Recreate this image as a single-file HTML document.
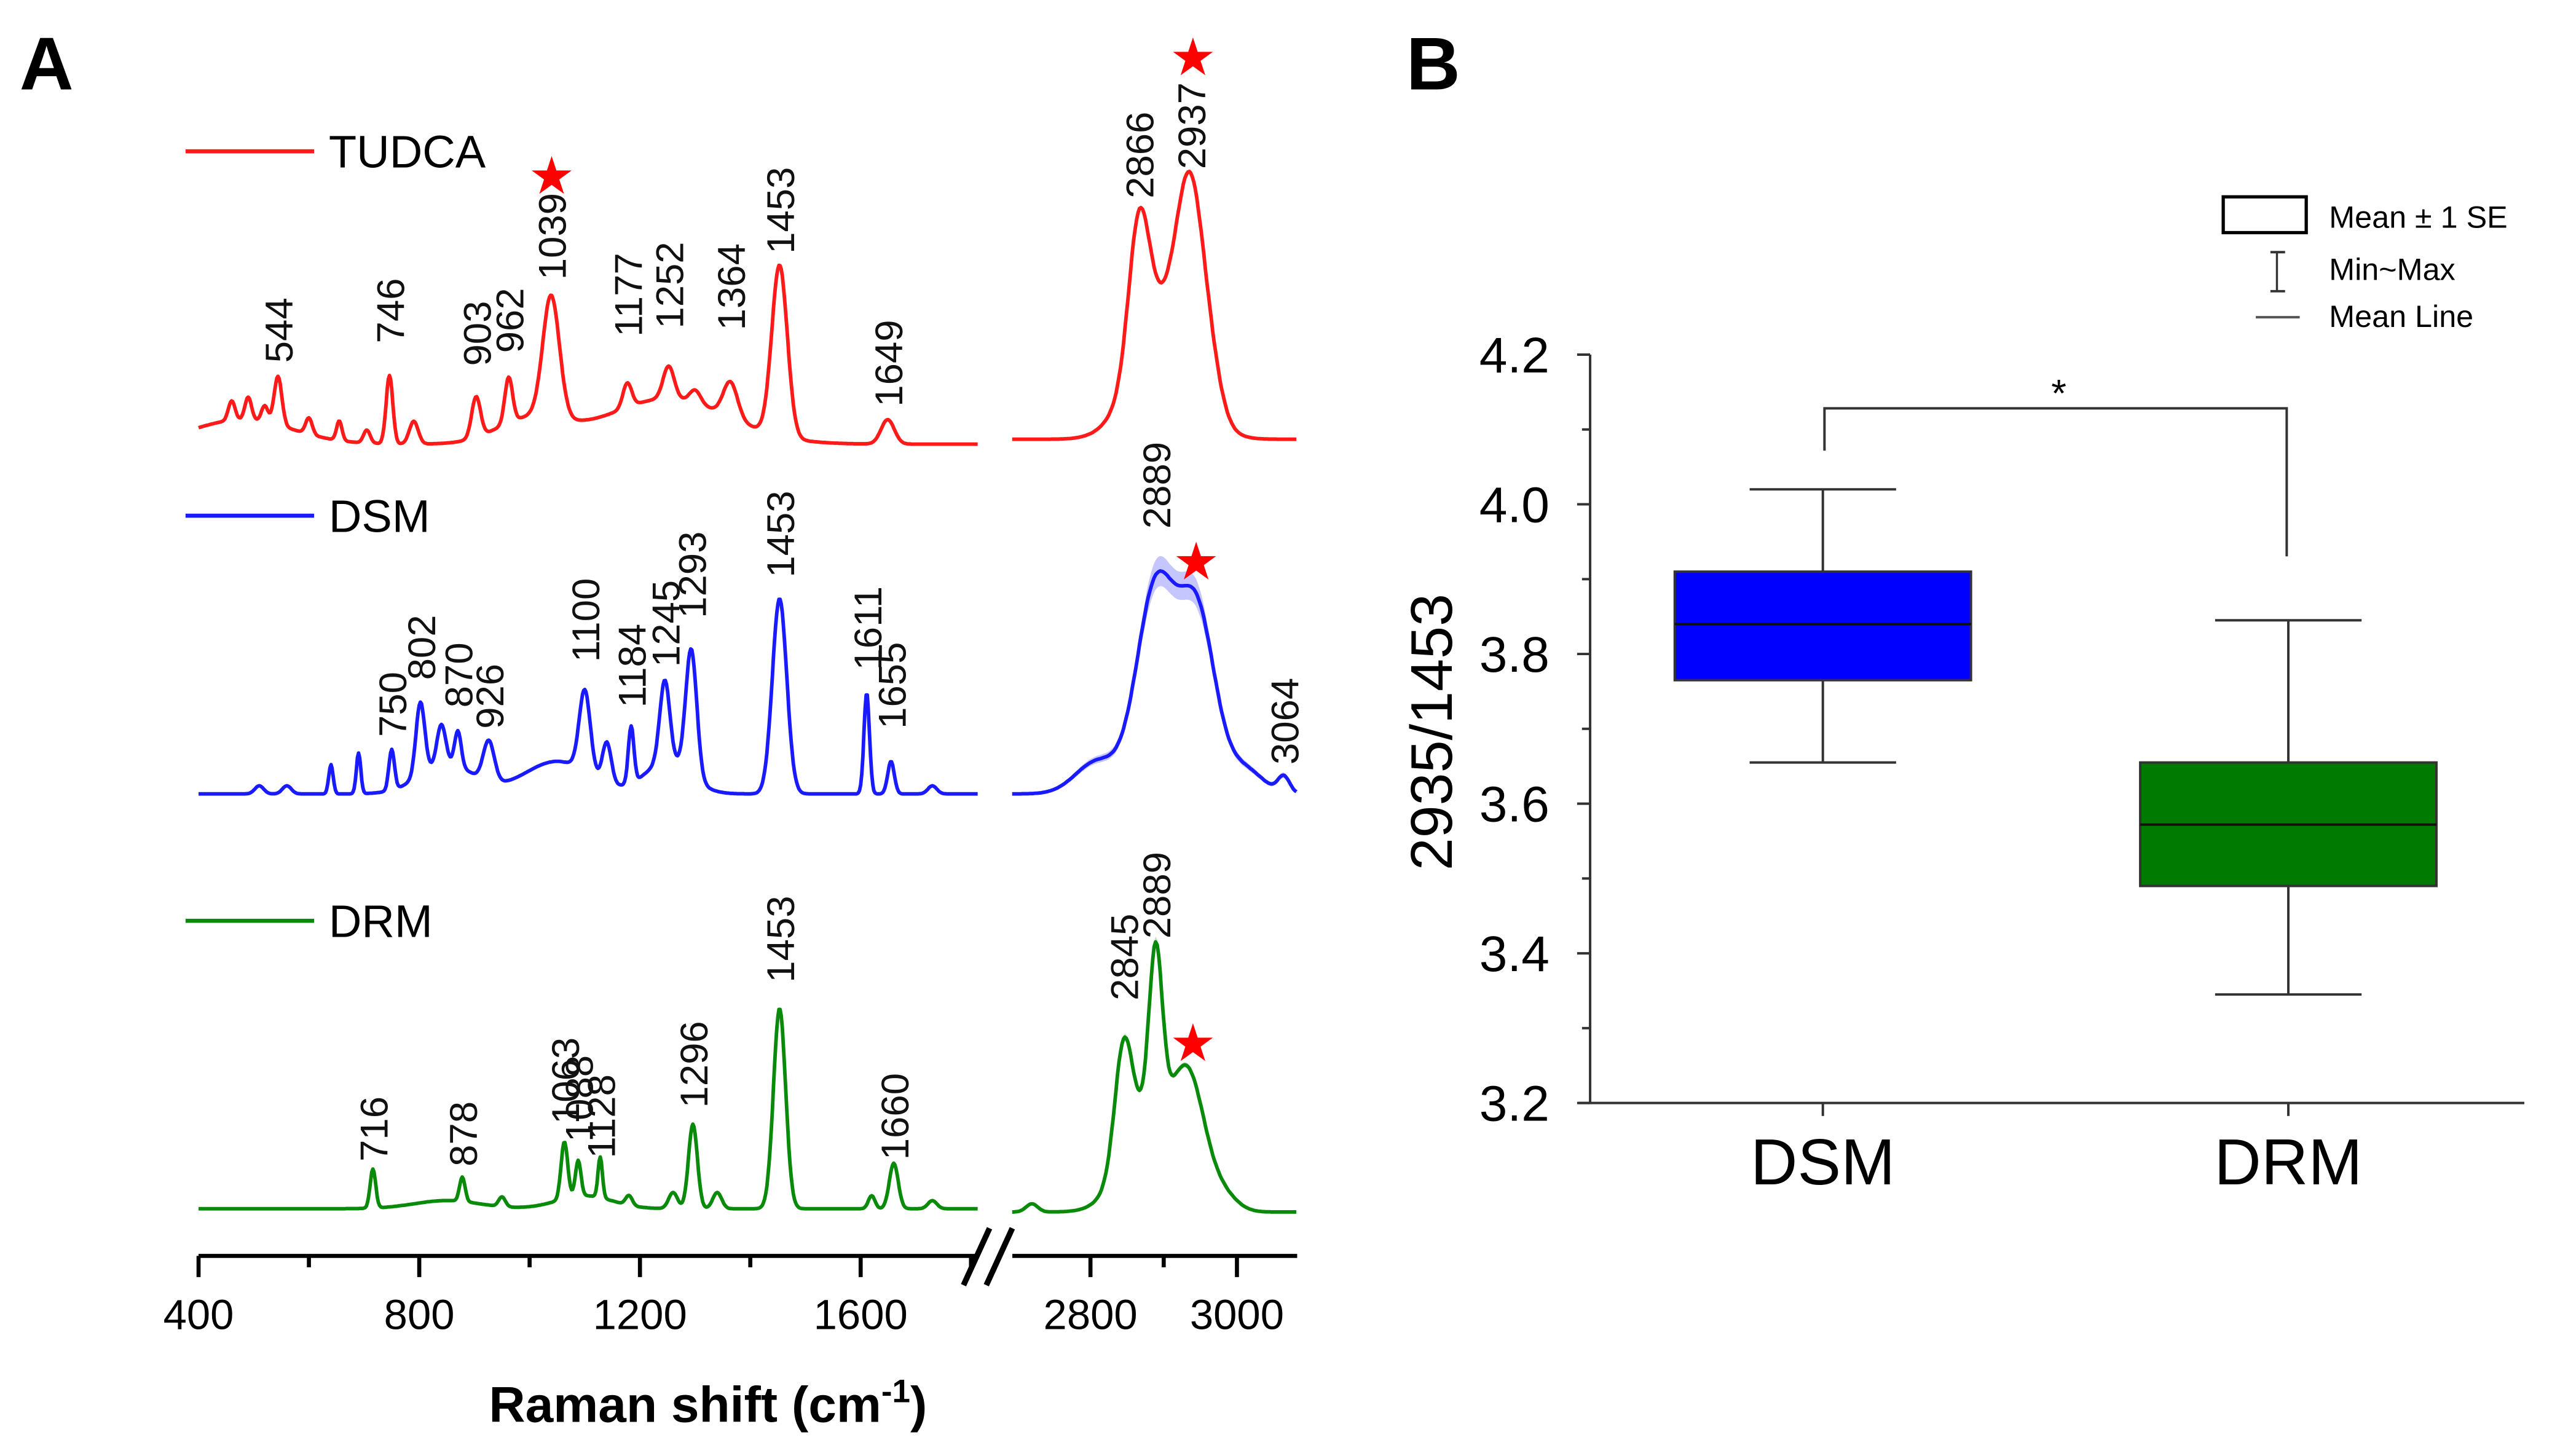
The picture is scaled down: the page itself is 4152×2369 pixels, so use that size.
<!DOCTYPE html>
<html><head><meta charset="utf-8"><style>
html,body{margin:0;padding:0;background:#fff;}
svg{display:block;}
text{font-family:"Liberation Sans",Arial,sans-serif;}
</style></head>
<body>
<svg id="fig" xmlns="http://www.w3.org/2000/svg" width="4152" height="2369" viewBox="0 0 1568 895" preserveAspectRatio="none">
<rect x="0" y="0" width="1568" height="895" fill="#fff"/>
<g id="panelA"></g>
<g id="panelB"></g>
</svg>
<script>
// ===== Panel A data =====
// peaks: [center cm-1, height (a.u.), sigma]
const tudcaLeftPeaks = [[480,15,90],[1250,28,110],[1000,15,60],[460,12,6],[490,14,6],[520,10,6],[544,30,7],[600,10,6],[655,12,5],[705,8,6],[746,42,6],[790,14,8],[903,25,8],[962,28,7],[1039,75,15],[1177,15,8],[1252,20,10],[1300,8,10],[1364,22,13],[1453,105,14],[1649,15,12]];
const tudcaRightPeaks = [[2900,80,40],[2866,85,14],[2937,108,18],[2965,20,15]];
const dsmLeftPeaks = [[1050,20,60],[850,18,50],[1250,20,40],[510,5,8],[560,5,8],[640,18,4],[690,25,4],[750,25,5],[802,45,8],[840,25,8],[870,22,6],[926,25,10],[1100,50,10],[1140,25,8],[1184,35,5],[1245,50,9],[1293,78,10],[1453,120,13],[1611,62,5],[1655,20,6],[1730,5,8]];
const dsmRightPeaks = [[2810,20,30],[2889,125,26],[2945,110,25],[3010,15,25],[3064,10,8]];
const drmLeftPeaks = [[1100,8,50],[850,5,60],[716,24,5],[878,15,5],[950,6,6],[1063,35,6],[1088,22,5],[1128,25,4],[1180,6,6],[1260,10,8],[1296,52,8],[1340,10,8],[1453,123,11],[1620,8,6],[1660,28,8],[1730,5,8]];
const drmRightPeaks = [[2720,5,8],[2880,60,35],[2845,70,12],[2889,100,9],[2935,70,22],[2980,10,20]];
const seriesNames = ["TUDCA","DSM","DRM"];
const seriesColors = ["#ff1a1a","#1a1aff","#0a8a0a"];
const seriesBase = [273,488,743];
const seriesBaseR = [270,488,745];
const tudcaLabels = [["544",544,223],["746",746,211],["903",903,225],["962",962,217],["1039",1039,172],["1177",1177,207],["1252",1252,202],["1364",1364,203],["1453",1453,156],["1649",1649,250],["2866",2866,122],["2937",2937,104]];
const dsmLabels = [["750",750,453],["802",802,418],["870",870,435],["926",926,448],["1100",1100,407],["1184",1184,435],["1245",1245,410],["1293",1293,380],["1453",1453,355],["1611",1611,412],["1655",1655,448],["2889",2889,325],["3064",3064,470]];
const drmLabels = [["716",716,714],["878",878,717],["1063",1063,691],["1088",1088,702],["1128",1128,712],["1296",1296,681],["1453",1453,604],["1660",1660,713],["2845",2845,615],["2889",2889,577]];
const xTicksLeft = [400,800,1200,1600];
const xTicksRight = [2800,3000];

// ===== Panel B data =====
const categories = ["DSM","DRM"];
const boxMin = [3.655,3.345];
const boxMax = [4.02,3.845];
const boxMean = [3.84,3.572];
const seLow = [3.765,3.49];
const seHigh = [3.91,3.655];
const boxColors = ["#0000ff","#007a00"];
const yTicks = [3.2,3.4,3.6,3.8,4.0,4.2];
const yTickLabels = ["3.2","3.4","3.6","3.8","4.0","4.2"];

const NS="http://www.w3.org/2000/svg";
function mk(tag,attrs,parent){const e=document.createElementNS(NS,tag);for(const k in attrs)e.setAttribute(k,attrs[k]);parent.appendChild(e);return e;}

const xL = cm => 122 + (cm-400)*0.339;
const xR = cm => 670 + (cm-2800)*0.45;
const L0=400, L1=1813, R0=2693, R1=3082;
function spec(peaks,cm){let s=0;for(const p of peaks){const d=cm-p[0];s+=p[1]*Math.exp(-d*d/(2*p[2]*p[2]));}return s;}

const A=document.getElementById('panelA');
const lettA=mk('text',{x:12,y:55,'font-size':46,'font-weight':'bold'},A);lettA.textContent='A';



const leftSets=[tudcaLeftPeaks,dsmLeftPeaks,drmLeftPeaks];
const rightSets=[tudcaRightPeaks,dsmRightPeaks,drmRightPeaks];
const labelSets=[tudcaLabels,dsmLabels,drmLabels];
const legendY=[93,317,566];
const stars=[[339,109],[733,36],[735,346],[733,642]];

for(let i=0;i<3;i++){
  const g=mk('g',{},A);
  
  
  let pts=[];
  for(let cm=L0;cm<=L1;cm+=2){pts.push(xL(cm).toFixed(1)+','+(seriesBase[i]-spec(leftSets[i],cm)).toFixed(1));}
  const pl=mk('polyline',{points:pts.join(' '),fill:'none',stroke:seriesColors[i],'stroke-width':2.2,'stroke-linejoin':'round'},g);
  
  
  let rp=[],up=[],dn=[];
  for(let cm=R0;cm<=R1;cm+=2){const v=spec(rightSets[i],cm);const y=seriesBaseR[i]-v;rp.push(xR(cm).toFixed(1)+','+y.toFixed(1));const b=i===1?v*0.06+1:v*0.02;up.push(xR(cm).toFixed(1)+','+(y-b).toFixed(1));dn.unshift(xR(cm).toFixed(1)+','+(y+b).toFixed(1));}
  if(i>0){const band=mk('polygon',{points:up.concat(dn).join(' '),fill:seriesColors[i],'fill-opacity':0.25,stroke:'none'},g);
    
    }
  const pr=mk('polyline',{points:rp.join(' '),fill:'none',stroke:seriesColors[i],'stroke-width':2.2,'stroke-linejoin':'round'},g);
  
  
  const lg=mk('line',{x1:114,x2:193,y1:legendY[i],y2:legendY[i],stroke:seriesColors[i],'stroke-width':2.5},g);
  
  
  const lt=mk('text',{x:202,y:legendY[i]+10,'font-size':28,fill:'#000'},g);lt.textContent=seriesNames[i];
  
  
  for(const lab of labelSets[i]){
    const cx = lab[1]>2000 ? xR(lab[1]) : xL(lab[1]);
    const t=mk('text',{x:0,y:0,'font-size':24,fill:'#111',transform:`translate(${(cx+9).toFixed(1)},${lab[2]}) rotate(-90)`},g);
    t.textContent=lab[0];
    
    
  }
}
for(const s of stars){
  const st=mk('text',{x:s[0],y:s[1]+10,'font-size':32,fill:'#ff0000','text-anchor':'middle','font-family':'DejaVu Sans'},A);
  st.textContent='★';
  
  
}
const ax=mk('g',{stroke:'#000','stroke-width':2.5},A);


mk('line',{x1:xL(400),x2:xL(L1),y1:772,y2:772},ax);
mk('line',{x1:622,x2:797,y1:772,y2:772},ax);
for(let cm=400;cm<=1800;cm+=200){const maj=cm%400===0;mk('line',{x1:xL(cm),x2:xL(cm),y1:772,y2:maj?785:779},ax);}
for(let cm=2800;cm<=3000;cm+=100){const maj=cm%200===0;mk('line',{x1:xR(cm),x2:xR(cm),y1:772,y2:maj?785:779},ax);}
mk('line',{x1:592,x2:608,y1:790,y2:755,'stroke-width':3.5},ax);
mk('line',{x1:606,x2:622,y1:790,y2:755,'stroke-width':3.5},ax);
for(const v of xTicksLeft){const t=mk('text',{x:xL(v),y:817,'font-size':26,'text-anchor':'middle'},A);t.textContent=v;
  
  }
for(const v of xTicksRight){const t=mk('text',{x:xR(v),y:817,'font-size':26,'text-anchor':'middle'},A);t.textContent=v;
  
  }
const xt=mk('text',{x:435,y:874,'font-size':31,'font-weight':'bold','text-anchor':'middle'},A);
xt.innerHTML='Raman shift (cm<tspan dy="-12" font-size="20">-1</tspan><tspan dy="12">)</tspan>';



// ===== Panel B =====
const B=document.getElementById('panelB');
const yB = v => 678 - (v-3.2)*460;
const xC = [1120,1406];
const lettB=mk('text',{x:864,y:55,'font-size':46,'font-weight':'bold'},B);lettB.textContent='B';


const axB=mk('g',{stroke:'#333','stroke-width':1.5},B);


mk('line',{x1:977,x2:977,y1:yB(4.2),y2:678},axB);
mk('line',{x1:970,x2:1551,y1:678,y2:678},axB);
for(let k=0;k<=10;k++){const v=3.2+k*0.1;mk('line',{x1:k%2===0?969:972,x2:977,y1:yB(v),y2:yB(v)},axB);}
for(const c of xC)mk('line',{x1:c,x2:c,y1:678,y2:686},axB);
yTicks.forEach((v,i)=>{const t=mk('text',{x:952,y:yB(v)+11,'font-size':31,'text-anchor':'end',fill:'#000'},B);t.textContent=yTickLabels[i];
  
  });
const yt=mk('text',{x:0,y:0,'font-size':36,'text-anchor':'middle',transform:'translate(892,450) rotate(-90)'},B);yt.textContent='2935/1453';


categories.forEach((c,i)=>{
  const g=mk('g',{},B);
  
  
  mk('line',{x1:xC[i],x2:xC[i],y1:yB(boxMax[i]),y2:yB(boxMin[i]),stroke:'#333','stroke-width':1.5},g);
  mk('line',{x1:xC[i]-45,x2:xC[i]+45,y1:yB(boxMax[i]),y2:yB(boxMax[i]),stroke:'#333','stroke-width':1.5},g);
  mk('line',{x1:xC[i]-45,x2:xC[i]+45,y1:yB(boxMin[i]),y2:yB(boxMin[i]),stroke:'#333','stroke-width':1.5},g);
  mk('rect',{x:xC[i]-91,y:yB(seHigh[i]),width:182,height:yB(seLow[i])-yB(seHigh[i]),fill:boxColors[i],stroke:'#333','stroke-width':1.5},g);
  mk('line',{x1:xC[i]-91,x2:xC[i]+91,y1:yB(boxMean[i]),y2:yB(boxMean[i]),stroke:'#111','stroke-width':1.5},g);
  const t=mk('text',{x:xC[i],y:728,'font-size':40,'text-anchor':'middle'},B);t.textContent=c;
  
  
});
const br=mk('polyline',{points:'1121,277 1121,251 1405,251 1405,342',fill:'none',stroke:'#333','stroke-width':1.5},B);


const ast=mk('text',{x:1265,y:250,'font-size':24,'text-anchor':'middle'},B);ast.textContent='*';


const lgB=mk('g',{},B);


mk('rect',{x:1366,y:121,width:51,height:22,fill:'#fff',stroke:'#000','stroke-width':2},lgB);
mk('line',{x1:1399,x2:1399,y1:155,y2:179,stroke:'#333','stroke-width':1.3},lgB);
mk('line',{x1:1395,x2:1404,y1:155,y2:155,stroke:'#333','stroke-width':1.5},lgB);
mk('line',{x1:1395,x2:1404,y1:179,y2:179,stroke:'#333','stroke-width':1.5},lgB);
mk('line',{x1:1386,x2:1413,y1:195,y2:195,stroke:'#555','stroke-width':1.5},lgB);
[["Mean ± 1 SE",140],["Min~Max",172],["Mean Line",201]].forEach(a=>{const t=mk('text',{x:1431,y:a[1],'font-size':19},lgB);t.textContent=a[0];
  
  });
</script>
</body></html>
